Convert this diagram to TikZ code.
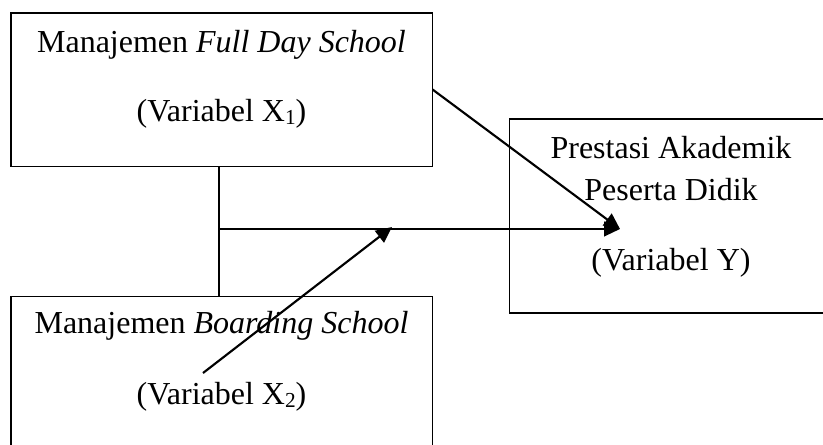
\documentclass[tikz,border=0pt]{standalone}
\usepackage{fontspec}
\setmainfont{Liberation Serif}
\usetikzlibrary{arrows.meta,positioning,calc}
\newcommand{\subidx}[1]{\raisebox{-1.2pt}{\fontsize{8}{8}\selectfont #1}}

\begin{document}
\begin{tikzpicture}[
  x=0.375pt, y=-0.375pt,
  box/.style={
    rectangle, draw, line width=0.4pt, inner sep=0pt},
  lbl/.style={
    anchor=base, inner sep=0pt, font=\fontsize{12}{14.4}\selectfont},
  arr/.style={-{Triangle[length=6pt,width=5.5pt]}, line width=0.8pt},
]
  \useasboundingbox (0,0) rectangle (823,444);
  \clip (0,0) rectangle (823,444);

  % ── Boxes ────────────────────────────────────────────────────────────────
  \node[box, minimum width=157.9pt, minimum height=57.4pt] (xone) at (221.5,89.5) {};
  \node[box, minimum width=157.9pt, minimum height=57.4pt,
        below=48.4pt of xone] (xtwo) {};
  % right box runs past the page edge, so only three sides show
  \node[box, anchor=west, minimum width=160pt, minimum height=72.75pt] (yvar) at (509,216) {};

  % ── Texts ────────────────────────────────────────────────────────────────
  \node[lbl] (xonea) at ($(xone.north)+(0,40)$)  {Manajemen \textit{Full Day School}};
  \node[lbl] (xoneb) at ($(xone.north)+(0,109)$) {(Variabel X\subidx{1})};
  \node[lbl] (xtwoa) at ($(xtwo.north)+(0,38)$)  {Manajemen \textit{Boarding School}};
  \node[lbl] (xtwob) at ($(xtwo.north)+(0,109)$) {(Variabel X\subidx{2})};
  \coordinate (ytop) at (671,119);
  \node[lbl] (yvara) at ($(ytop)+(0,39)$)  {Prestasi Akademik};
  \node[lbl] (yvarb) at ($(ytop)+(0,81)$)  {Peserta Didik};
  \node[lbl] (yvarc) at ($(ytop)+(0,151)$) {(Variabel Y)};

  % ── Connectors ───────────────────────────────────────────────────────────
  \coordinate (junc)   at (219,229);
  \coordinate (tip)    at (620,229);
  \coordinate (bstart) at (203,373);
  \coordinate (bend)   at (392,227);

  \draw[line width=0.4pt] (xone.south -| junc) -- (xtwo.north -| junc);
  \draw[arr] (junc) -- (tip);
  \draw[arr] (xone.east) -- (tip);
  \draw[arr] (bstart) -- (bend);

\end{tikzpicture}
\end{document}
